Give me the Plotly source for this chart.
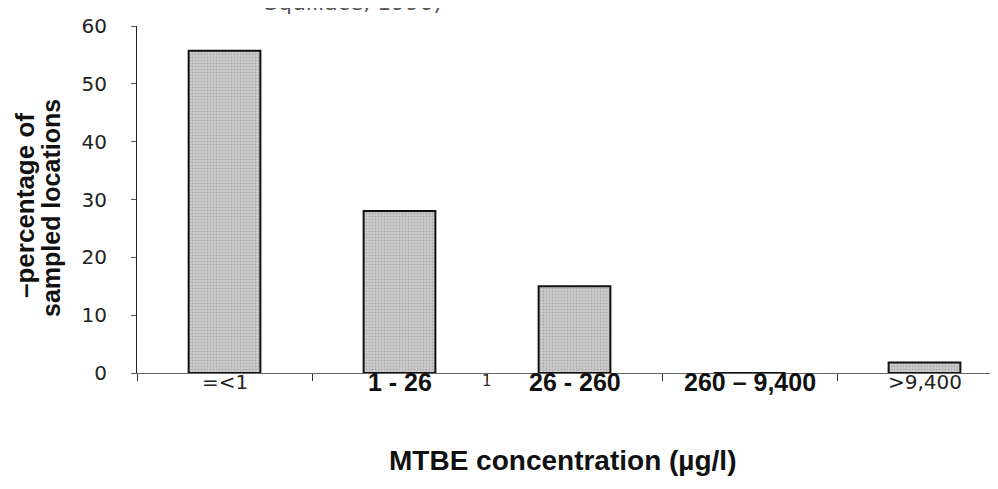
import plotly.graph_objects as go

categories = ["=<1", "1 - 26", "26 - 260", "260 – 9,400", ">9,400"]
bold_labels = [False, True, True, True, False]
values = [55.7, 28.0, 15.0, 0.0, 1.8]
y_ticks = [0, 10, 20, 30, 40, 50, 60]

x_pos = list(range(len(categories)))

# page pixel helpers (the page body has an 8px margin)
PL, PT, PW, PH = 137, 26, 861, 347
def px(x):
    return (x - PL) / PW
def py(y):
    return 1 - (y - PT) / PH

fig = go.Figure()
fig.add_trace(go.Bar(
    x=x_pos, y=values, width=0.41,
    marker=dict(
        color="#c4c4c4",
        line=dict(color="#111111", width=2),
        pattern=dict(shape=".", fgcolor="#888888", bgcolor="#cfcfcf", size=3, solidity=0.4),
    ),
    showlegend=False,
))

fig.update_layout(
    width=990, height=481,
    margin=dict(l=129, r=0, t=18, b=116),
    paper_bgcolor="white", plot_bgcolor="white",
    font=dict(family="Liberation Sans, Arial, sans-serif", color="#222"),
    xaxis=dict(
        range=[-0.5, 4.42],
        tickmode="array", tickvals=[i - 0.5 for i in x_pos], ticktext=[""] * len(x_pos),
        ticks="outside", ticklen=7, tickcolor="#333", tickwidth=1,
        showline=True, linecolor="#666", linewidth=1,
        showgrid=False, zeroline=False,
    ),
    yaxis=dict(
        range=[0, 60], tickvals=y_ticks,
        ticks="outside", ticklen=5, tickcolor="#555",
        showline=True, linecolor="#222", linewidth=1,
        showgrid=False, zeroline=False,
        tickfont=dict(family="DejaVu Sans", size=20, color="#222"),
        ticklabelstandoff=20,
    ),
)

for i, (lab, b) in enumerate(zip(categories, bold_labels)):
    fig.add_annotation(
        x=i, y=py(382), xref="x", yref="paper", showarrow=False,
        text=f"<b>{lab}</b>" if b else lab,
        font=dict(family="Liberation Sans" if b else "DejaVu Sans",
                  size=25 if b else 20, color="#111" if b else "#222"),
        yanchor="middle",
    )

# small stray mark between the 2nd and 3rd labels
fig.add_annotation(
    x=px(487), xref="paper", y=py(381), yref="paper",
    text="1", showarrow=False,
    font=dict(family="DejaVu Sans", size=15, color="#333"), yanchor="middle",
)

fig.add_annotation(
    x=px(562), xref="paper", y=py(460), yref="paper",
    text="<b>MTBE concentration (µg/l)</b>", showarrow=False,
    font=dict(size=28, color="#111"), yanchor="middle",
)

fig.add_annotation(
    x=px(25), xref="paper", y=py(205), yref="paper",
    text="<b>–percentage of</b>", showarrow=False,
    textangle=-90, font=dict(size=26, color="#111"), yanchor="middle", xanchor="center",
)
fig.add_annotation(
    x=px(51), xref="paper", y=py(208), yref="paper",
    text="<b>sampled locations</b>", showarrow=False,
    textangle=-90, font=dict(size=25, color="#111"), yanchor="middle", xanchor="center",
)

fig.add_annotation(
    x=px(262), xref="paper", xanchor="left",
    y=py(16.5), yref="paper", yanchor="bottom",
    text="Squillace, 1996)", showarrow=False,
    font=dict(family="DejaVu Sans", size=22, color="#555"),
)

fig.write_html("out.html")
